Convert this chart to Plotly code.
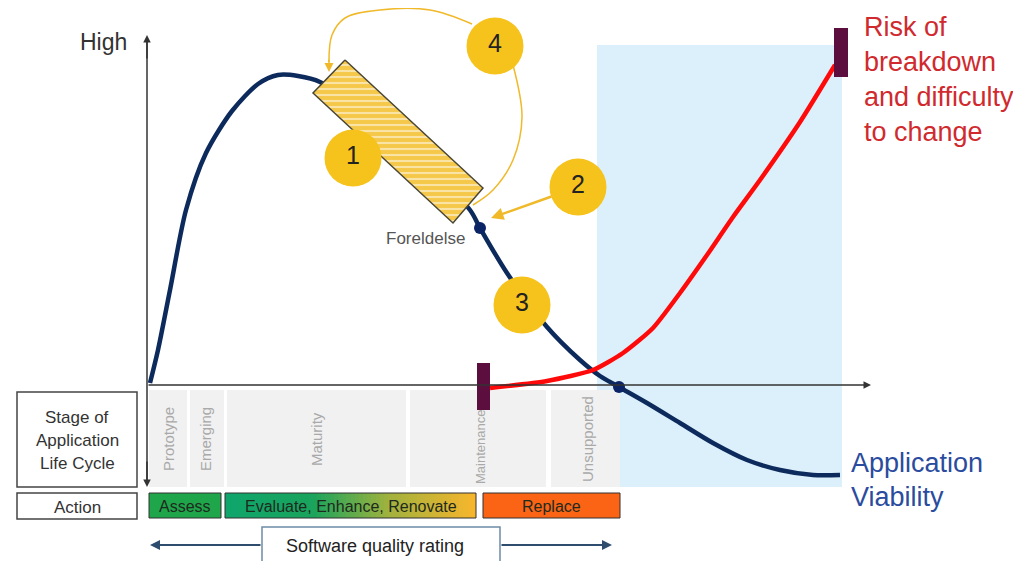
"""Application life cycle diagram: viability vs. risk of breakdown."""

import numpy as np
import plotly.graph_objects as go

FONT = "Arial, Liberation Sans, sans-serif"
NAVY = "#0d2a5c"
YELLOW = "#f6c21c"
GOLD = "#f0b92a"
BAR = "#5c0f3e"

# page has an 8px body margin, so the plot area starts at pixel 8
PAD = 8

# ---------------------------------------------------------------------------
# Data (in pixel space of the 1021x561 canvas)
# ---------------------------------------------------------------------------
viability_x = [150, 158, 170, 186, 206, 232, 258, 278, 298, 320, 400, 470,
               480, 507, 547, 580, 600, 619, 647, 680, 713, 747, 780, 813, 840]
viability_y = [383, 350, 290, 210, 153, 111, 84, 75, 76, 82, 140, 210,
               228, 273, 327, 360, 376, 387, 403, 423, 443, 460, 470, 475, 475]

risk_x = [490, 547, 593, 623, 653, 680, 707, 733, 760, 800, 835]
risk_y = [388, 381, 370, 353, 328, 293, 255, 217, 180, 122, 65]

milestone_x = [480, 619]
milestone_y = [228, 387]
milestone_label = "Foreldelse"

stages = ["Prototype", "Emerging", "Maturity", "Maintenance", "Unsupported"]
stage_left = [149, 190, 227, 410, 551]
stage_right = [187, 224, 406, 546, 620]
stage_label_x = [168, 205, 316, 480, 587]

actions = ["Assess", "Evaluate, Enhance, Renovate", "Replace"]
action_left = [149, 225, 483]
action_right = [221, 476, 620]

callouts = ["1", "2", "3", "4"]
callout_x = [353, 578, 522, 495]
callout_y = [158, 187, 305, 46]

# hatched "current stage" box (rotated rectangle corners)
box_x = [345, 483, 453, 313]
box_y = [60, 188, 223, 93]

# loop arrows from callout 4
loop_a_x = [472, 430, 380, 345, 332, 329]
loop_a_y = [24, 10, 10, 18, 35, 62]
loop_b_x = [513, 522, 513, 493, 473]
loop_b_y = [65, 117, 160, 190, 205]

risk_lines = ["Risk of", "breakdown", "and difficulty", "to change"]
viability_lines = ["Application", "Viability"]
life_cycle_lines = ["Stage of", "Application", "Life Cycle"]

fig = go.Figure()
shapes = []
annotations = []

# light blue "replace zone"
shapes.append(dict(type="rect", x0=597, x1=842, y0=45, y1=487,
                   fillcolor="#dcf0fb", line=dict(width=0), layer="below"))

# stage columns
for x0, x1 in zip(stage_left, stage_right):
    shapes.append(dict(type="rect", x0=x0, x1=x1, y0=390, y1=487,
                       fillcolor="#f1f1f1", line=dict(width=0), layer="below"))
for name, lx in zip(stages, stage_label_x):
    if name == "Maintenance":
        pos = dict(y=486, yanchor="bottom", font=dict(family=FONT, size=13, color="#a9a9a9"))
    else:
        pos = dict(y=439, yanchor="middle", font=dict(family=FONT, size=15, color="#a9a9a9"))
    annotations.append(dict(x=lx, text=name, textangle=-90, showarrow=False,
                            xanchor="center", **pos))

# left boxes
shapes.append(dict(type="rect", x0=17, x1=137, y0=392, y1=487,
                   line=dict(color="#444", width=1.5), fillcolor="white"))
shapes.append(dict(type="rect", x0=17, x1=137, y0=493, y1=519,
                   line=dict(color="#444", width=1.5), fillcolor="white"))
for i, t in enumerate(life_cycle_lines):
    annotations.append(dict(x=77, y=417 + 23 * i, text=t, showarrow=False,
                            font=dict(family=FONT, size=17, color="#333")))
annotations.append(dict(x=77, y=507, text="Action", showarrow=False,
                        font=dict(family=FONT, size=17, color="#333")))

# action bars
shapes.append(dict(type="rect", x0=action_left[0], x1=action_right[0], y0=493, y1=518,
                   fillcolor="#1fa64a", line=dict(color="#333", width=1)))
shapes.append(dict(type="rect", x0=action_left[2], x1=action_right[2], y0=493, y1=518,
                   fillcolor="#fa6414", line=dict(color="#333", width=1)))
n_cells = 60
fig.add_trace(go.Heatmap(
    x=np.linspace(action_left[1], action_right[1], n_cells + 1),
    y=[493, 518],
    z=[list(range(n_cells))],
    colorscale=[[0, "#0fa56c"], [0.35, "#1aa45c"], [0.65, "#9fb23e"], [1, "#f7b52c"]],
    showscale=False, hoverinfo="skip",
))
shapes.append(dict(type="rect", x0=action_left[1], x1=action_right[1], y0=493, y1=518,
                   line=dict(color="#333", width=1), layer="above"))
for name, x0, x1 in zip(actions, action_left, action_right):
    annotations.append(dict(x=(x0 + x1) / 2, y=506, text=name, showarrow=False,
                            font=dict(family=FONT, size=16, color="#1e2a1e")))

# software quality rating
shapes.append(dict(type="rect", x0=262, x1=500, y0=527, y1=570,
                   line=dict(color="#6d8aa6", width=1.5), fillcolor="white"))
annotations.append(dict(x=375, y=546, text="Software quality rating", showarrow=False,
                        font=dict(family=FONT, size=18, color="#222")))
for tail, head in ((262, 150), (500, 612)):
    annotations.append(dict(x=head, y=545, ax=tail, ay=545, axref="x", ayref="y",
                            xref="x", yref="y", text="", showarrow=True,
                            arrowhead=2, arrowsize=1, arrowwidth=2, arrowcolor="#2e4d6e"))

# axes
shapes.append(dict(type="line", x0=147, x1=147, y0=40, y1=480, line=dict(color="#333", width=1.5)))
for hx, hy, tx, ty in ((147, 35, 147, 60), (147, 487, 147, 460), (871, 385, 147, 385)):
    annotations.append(dict(x=hx, y=hy, ax=tx, ay=ty, axref="x", ayref="y",
                            xref="x", yref="y", text="", showarrow=True,
                            arrowhead=2, arrowsize=1, arrowwidth=1.5, arrowcolor="#333"))
annotations.append(dict(x=129, y=42, text="High", showarrow=False, xanchor="right",
                        font=dict(family=FONT, size=23, color="#333")))

# curves
fig.add_trace(go.Scatter(x=viability_x, y=viability_y, mode="lines",
                         line=dict(color=NAVY, width=4.5, shape="spline", smoothing=0.8),
                         hoverinfo="skip"))
fig.add_trace(go.Scatter(x=risk_x, y=risk_y, mode="lines",
                         line=dict(color="#ff0a0a", width=4.5, shape="spline", smoothing=0.6),
                         hoverinfo="skip"))

# milestone bars
shapes.append(dict(type="rect", x0=477, x1=490, y0=363, y1=410,
                   fillcolor=BAR, line=dict(width=0), layer="above"))
shapes.append(dict(type="rect", x0=834, x1=848, y0=28, y1=77,
                   fillcolor=BAR, line=dict(width=0), layer="above"))

# hatched box
fig.add_trace(go.Scatter(x=box_x + box_x[:1], y=box_y + box_y[:1], mode="lines",
                         fill="toself",
                         fillpattern=dict(shape="-", fgcolor="white", bgcolor="#f5c84a",
                                          size=6, solidity=0.35),
                         line=dict(color="#4a4636", width=1.5), hoverinfo="skip"))

# milestone dots
fig.add_trace(go.Scatter(x=milestone_x, y=milestone_y, mode="markers",
                         marker=dict(size=12, color="#0a2466", line=dict(width=0)),
                         hoverinfo="skip"))
annotations.append(dict(x=425, y=238, text=milestone_label, showarrow=False,
                        font=dict(family=FONT, size=17, color="#555")))

# loop arrows
for lx, ly in ((loop_a_x, loop_a_y), (loop_b_x, loop_b_y)):
    fig.add_trace(go.Scatter(x=lx, y=ly, mode="lines",
                             line=dict(color=GOLD, width=1.5, shape="spline"),
                             hoverinfo="skip"))
annotations.append(dict(x=329, y=72, ax=329, ay=58, axref="x", ayref="y",
                        xref="x", yref="y", text="", showarrow=True,
                        arrowhead=2, arrowsize=1.2, arrowwidth=1.5, arrowcolor=GOLD))
annotations.append(dict(x=491, y=218, ax=553, ay=196, axref="x", ayref="y",
                        xref="x", yref="y", text="", showarrow=True,
                        arrowhead=2, arrowsize=1, arrowwidth=2.5, arrowcolor=GOLD))

# numbered callouts
fig.add_trace(go.Scatter(x=callout_x, y=callout_y, mode="markers+text",
                         text=callouts, textposition="middle center",
                         textfont=dict(family=FONT, size=25, color="#222"),
                         marker=dict(size=57, color=YELLOW, line=dict(width=0)),
                         hoverinfo="skip"))

# right-hand labels
for i, t in enumerate(risk_lines):
    annotations.append(dict(x=862, y=27 + 35 * i, text=t, showarrow=False, xanchor="left",
                            font=dict(family=FONT, size=27, color="#d02a2e")))
for i, t in enumerate(viability_lines):
    annotations.append(dict(x=849, y=463 + 34 * i, text=t, showarrow=False, xanchor="left",
                            font=dict(family=FONT, size=27, color="#2b4c9e")))

fig.update_layout(
    width=1021 - PAD,
    height=561 - PAD,
    margin=dict(l=0, r=0, t=0, b=0),
    paper_bgcolor="white",
    plot_bgcolor="white",
    showlegend=False,
    xaxis=dict(range=[PAD, 1021], visible=False, fixedrange=True),
    yaxis=dict(range=[561, PAD], visible=False, fixedrange=True),
    shapes=shapes,
    annotations=annotations,
)

fig.write_html("out.html")
